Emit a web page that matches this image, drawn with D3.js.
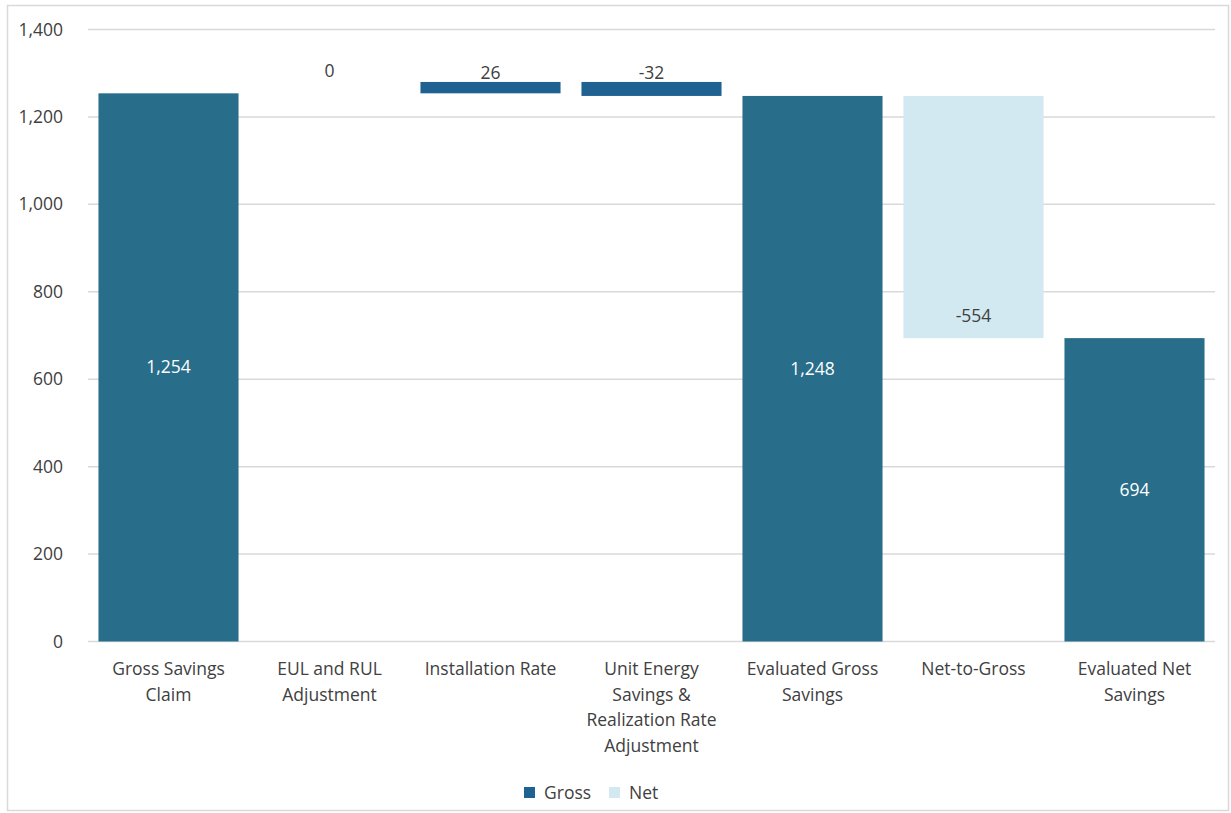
<!DOCTYPE html>
<html>
<head>
<meta charset="utf-8">
<script src="https://cdn.jsdelivr.net/npm/d3@7"></script>
<style>
  html, body { margin: 0; padding: 0; background: #fff; }
  svg { display: block; font-family: "Open Sans", "Lato", sans-serif; }
</style>
</head>
<body>
<svg id="chart" width="1231" height="813"></svg>
<script>
// Savings waterfall: totals are drawn from zero, steps float from the running total.
const categories = [
  ["Gross Savings", "Claim"],
  ["EUL and RUL", "Adjustment"],
  ["Installation Rate"],
  ["Unit Energy", "Savings &", "Realization Rate", "Adjustment"],
  ["Evaluated Gross", "Savings"],
  ["Net-to-Gross"],
  ["Evaluated Net", "Savings"]
];
const values = [1254, 0, 26, -32, 1248, -554, 694];
const kinds = ["total", "step", "step", "step", "total", "step", "total"];
const seriesOf = ["Gross", "Gross", "Gross", "Gross", "Gross", "Net", "Gross"];
const yTicks = [0, 200, 400, 600, 800, 1000, 1200, 1400];
const legendItems = ["Gross", "Net"];

const colors = { total: "#286e8a", Gross: "#1f6291", Net: "#d3e9f2" };
const textColor = "#404040";
const fontSize = 17.5;

const svg = d3.select("#chart");
const plot = { left: 88, right: 1215, top: 29.5, bottom: 641.5 };

// number format with a plain hyphen for negatives
const locale = d3.formatLocale({ decimal: ".", thousands: ",", grouping: [3], currency: ["$", ""], minus: "-" });
const fmt = locale.format(",");

// chart frame
svg.append("rect")
  .attr("x", 7.5).attr("y", 5.5)
  .attr("width", 1221).attr("height", 805)
  .attr("fill", "#fff").attr("stroke", "#d9d9d9").attr("stroke-width", 1.5);

const x = d3.scaleBand()
  .domain(d3.range(categories.length))
  .range([plot.left, plot.right])
  .paddingInner(0.13).paddingOuter(0.065);

const y = d3.scaleLinear().domain([0, 1400]).range([plot.bottom, plot.top]);

// running totals for the floating steps
let running = 0;
const bars = values.map((v, i) => {
  let lo, hi;
  if (kinds[i] === "total") {
    lo = 0; hi = v; running = v;
  } else {
    const start = running, end = running + v;
    lo = Math.min(start, end); hi = Math.max(start, end);
    running = end;
  }
  return { i, v, lo, hi, kind: kinds[i], series: seriesOf[i] };
});

// gridlines
svg.append("g")
  .selectAll("line")
  .data(yTicks)
  .join("line")
  .attr("x1", plot.left).attr("x2", plot.right)
  .attr("y1", d => y(d)).attr("y2", d => y(d))
  .attr("stroke", "#d9d9d9").attr("stroke-width", 1.5);

// y axis labels
const yAxis = d3.axisLeft(y).tickValues(yTicks).tickFormat(fmt).tickSize(0).tickPadding(25);
const yg = svg.append("g").attr("transform", `translate(${plot.left},0)`).call(yAxis);
yg.select(".domain").remove();
yg.selectAll("text")
  .attr("font-size", fontSize).attr("fill", textColor)
  .attr("font-family", "'Open Sans', Lato, sans-serif");

// bars
const fillOf = b => b.kind === "total" ? colors.total : colors[b.series];
svg.append("g")
  .selectAll("rect")
  .data(bars.filter(b => b.hi - b.lo > 0))
  .join("rect")
  .attr("x", b => x(b.i))
  .attr("width", x.bandwidth())
  .attr("y", b => y(b.hi))
  .attr("height", b => y(b.lo) - y(b.hi))
  .attr("fill", fillOf);

// value labels
const labels = svg.append("g").attr("font-size", fontSize).attr("text-anchor", "middle");
bars.forEach(b => {
  const cx = x(b.i) + x.bandwidth() / 2;
  let ty, fill;
  if (b.kind === "total") {
    ty = (y(b.lo) + y(b.hi)) / 2 + 6; fill = "#ffffff";
  } else if (b.series === "Net") {
    ty = y(b.lo) - 16; fill = textColor;
  } else if (b.v === 0) {
    ty = y(b.hi) - 16; fill = textColor;
  } else {
    ty = y(b.hi) - 3; fill = textColor;
  }
  labels.append("text").attr("x", cx).attr("y", ty).attr("fill", fill).text(fmt(b.v));
});

// category labels
const cat = svg.append("g").attr("font-size", fontSize).attr("fill", textColor).attr("text-anchor", "middle");
categories.forEach((lines, i) => {
  const cx = x(i) + x.bandwidth() / 2;
  const t = cat.append("text").attr("x", cx).attr("y", 675);
  lines.forEach((ln, k) => {
    t.append("tspan").attr("x", cx).attr("dy", k === 0 ? 0 : 25.7).text(ln);
  });
});

// legend
const legend = svg.append("g").attr("font-size", fontSize).attr("fill", textColor);
const legendX = [524, 609];
legendItems.forEach((name, k) => {
  legend.append("rect")
    .attr("x", legendX[k]).attr("y", 787)
    .attr("width", 11).attr("height", 11)
    .attr("fill", colors[name]);
  legend.append("text")
    .attr("x", legendX[k] + 20).attr("y", 799)
    .text(name);
});
</script>
</body>
</html>
